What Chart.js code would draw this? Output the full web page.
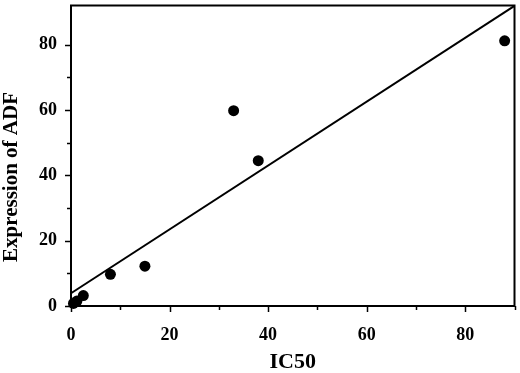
<!DOCTYPE html>
<html>
<head>
<meta charset="utf-8">
<script src="https://cdn.jsdelivr.net/npm/chart.js@4/dist/chart.umd.min.js"></script>
<style>
html,body{margin:0;padding:0;background:#fff;}
canvas{display:block;}
</style>
</head>
<body>
<canvas id="c" width="520" height="373"></canvas>
<script>
// Data
const ic50 = [0.5, 1.2, 2.5, 8, 15, 33, 38, 88];
const adf  = [0.8, 1.5, 3.2, 9.7, 12.2, 59.8, 44.5, 81.2];
// Fitted regression line end points
const fitX = [0, 90];
const fitY = [3.9, 91.9];
const xTickLabels = [0, 20, 40, 60, 80];
const yTickLabels = [0, 20, 40, 60, 80];
const xTitle = 'IC50';
const yTitle = 'Expression of ADF';

const serif = '"Liberation Serif", "Times New Roman", serif';

const framePlugin = {
  id: 'frame',
  afterDraw(chart) {
    const {ctx, chartArea: a, scales} = chart;
    ctx.save();
    ctx.strokeStyle = '#000';
    ctx.lineWidth = 2;
    ctx.strokeRect(a.left, a.top, a.right - a.left, a.bottom - a.top);
    ctx.lineWidth = 1.5;
    scales.x.ticks.forEach(t => {
      if (t.value % 10 !== 0) return;
      const px = Math.round(scales.x.getPixelForValue(t.value)) + 0.5;
      const len = xTickLabels.includes(t.value) ? 6 : 4;
      ctx.beginPath(); ctx.moveTo(px, a.bottom); ctx.lineTo(px, a.bottom + len); ctx.stroke();
    });
    scales.y.ticks.forEach(t => {
      if (t.value % 10 !== 0) return;
      const py = Math.round(scales.y.getPixelForValue(t.value)) + 0.5;
      const len = yTickLabels.includes(t.value) ? 6 : 4;
      ctx.beginPath(); ctx.moveTo(a.left, py); ctx.lineTo(a.left - len, py); ctx.stroke();
    });
    ctx.fillStyle = '#000';
    ctx.font = 'bold 21px ' + serif;
    ctx.textAlign = 'center';
    ctx.textBaseline = 'middle';
    ctx.translate(12, 177);
    ctx.rotate(-Math.PI / 2);
    ctx.fillText(yTitle, 0, 0);
    ctx.restore();
  }
};

function noPad(s) {
  s.paddingTop = 0; s.paddingBottom = 0; s.paddingLeft = 0; s.paddingRight = 0;
}

new Chart(document.getElementById('c'), {
  type: 'scatter',
  data: {
    datasets: [
      {
        type: 'line',
        data: fitX.map((x, i) => ({x, y: fitY[i]})),
        borderColor: '#000',
        borderWidth: 2,
        pointRadius: 0,
        fill: false,
        clip: false
      },
      {
        data: ic50.map((x, i) => ({x, y: adf[i]})),
        backgroundColor: '#000',
        borderColor: '#000',
        pointRadius: 5.5,
        borderWidth: 0,
        clip: false
      }
    ]
  },
  options: {
    responsive: false,
    animation: false,
    layout: {padding: {top: 3, right: 4, left: 0, bottom: 0}},
    plugins: {legend: {display: false}, tooltip: {enabled: false}},
    scales: {
      x: {
        type: 'linear',
        min: 0, max: 90,
        afterFit(s) { s.height = 67; noPad(s); },
        grid: {display: false, drawTicks: false},
        border: {display: false},
        ticks: {
          stepSize: 10,
          autoSkip: false,
          maxRotation: 0,
          padding: 19,
          color: '#000',
          font: {family: serif, size: 18, weight: 'bold'},
          callback: v => xTickLabels.includes(v) ? String(v) : ''
        },
        title: {
          display: true,
          text: xTitle,
          color: '#000',
          font: {family: serif, size: 22, weight: 'bold', lineHeight: 1},
          padding: {top: 0, bottom: 0}
        }
      },
      y: {
        type: 'linear',
        min: 0, max: 92,
        afterFit(s) { s.width = 71; noPad(s); },
        grid: {display: false, drawTicks: false},
        border: {display: false},
        ticks: {
          stepSize: 10,
          autoSkip: false,
          padding: 14,
          color: '#000',
          font: {family: serif, size: 18, weight: 'bold'},
          callback: v => yTickLabels.includes(v) ? String(v) : ''
        }
      }
    }
  },
  plugins: [framePlugin]
});
</script>
</body>
</html>
